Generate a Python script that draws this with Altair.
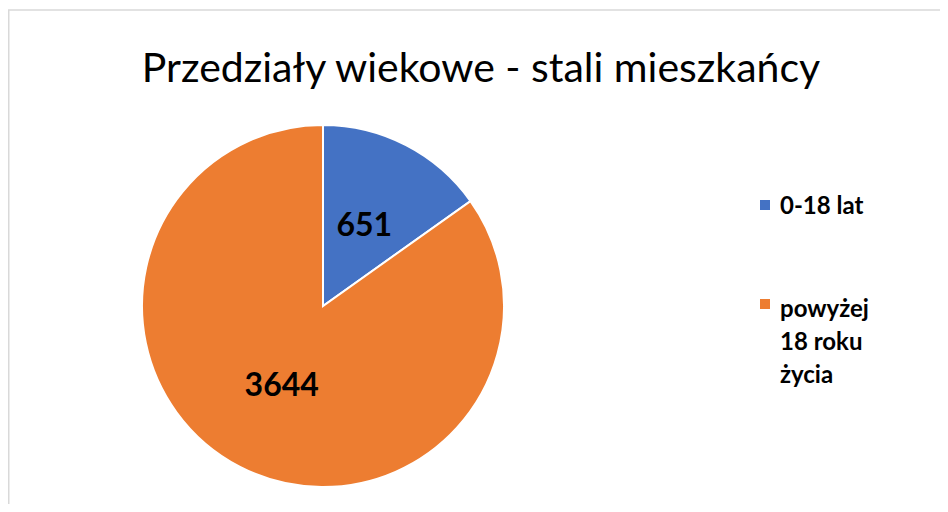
import altair as alt
import pandas as pd

# ---- data ----
categories = ["0-18 lat", "powyżej 18 roku życia"]
values = [651, 3644]
colors = ["#4472C4", "#ED7D31"]
legend_lines = [["0-18 lat"], ["powyżej", "18 roku", "życia"]]
title_text = "Przedziały wiekowe - stali mieszkańcy"

W, H = 932, 496
CX, CY, R = 315, 298, 181
FONT = "Lato"

df = pd.DataFrame({"kategoria": categories, "wartosc": values, "kol": list(range(len(categories)))})

color_scale = alt.Scale(domain=categories, range=colors)

# legend tables
leg_sym_y = [197, 296]
leg_text_base = [206, 309]
line_h = 33
sym_rows, txt_rows = [], []
for i, cat in enumerate(categories):
    sym_rows.append({"kategoria": cat, "py": leg_sym_y[i]})
    for j, line in enumerate(legend_lines[i]):
        txt_rows.append({"t": line, "py": leg_text_base[i] + j * line_h})
sym_df = pd.DataFrame(sym_rows)
txt_df = pd.DataFrame(txt_rows)

border = alt.Chart(pd.DataFrame({"a": [0]})).mark_rect(
    fill="white", stroke="#d9d9d9", strokeWidth=1.5
).encode(x=alt.value(0.75), x2=alt.value(W + 20), y=alt.value(2), y2=alt.value(H + 20))

title = alt.Chart(pd.DataFrame({"t": [title_text]})).mark_text(
    font=FONT, fontSize=41, color="black", baseline="alphabetic", align="center"
).encode(text="t:N", x=alt.value(473), y=alt.value(74))

base = alt.Chart(df).encode(
    theta=alt.Theta("wartosc:Q", stack=True),
    order=alt.Order("kol:Q"),
)
pie = base.mark_arc(radius=R, stroke="white", strokeWidth=2).encode(
    color=alt.Color("kategoria:N", scale=color_scale, legend=None),
    x=alt.value(CX), y=alt.value(CY),
)
labels = base.mark_text(
    radius=90, font=FONT, fontSize=32, fontWeight="bold", color="black", baseline="middle"
).encode(text=alt.Text("wartosc:Q", format="d"), x=alt.value(CX), y=alt.value(CY))

leg_sym = alt.Chart(sym_df).mark_square(size=100, opacity=1).encode(
    x=alt.value(757),
    y=alt.Y("py:Q", scale=None),
    color=alt.Color("kategoria:N", scale=color_scale, legend=None),
)
leg_txt = alt.Chart(txt_df).mark_text(
    font=FONT, fontSize=24, fontWeight="bold", color="black", align="left", baseline="alphabetic"
).encode(text="t:N", x=alt.value(772), y=alt.Y("py:Q", scale=None))

chart = alt.layer(border, title, pie, labels, leg_sym, leg_txt).properties(
    width=W, height=H, autosize="none", padding=0
).configure_view(stroke=None)

chart.save("out.html", embed_options={"renderer": "svg", "actions": False})
